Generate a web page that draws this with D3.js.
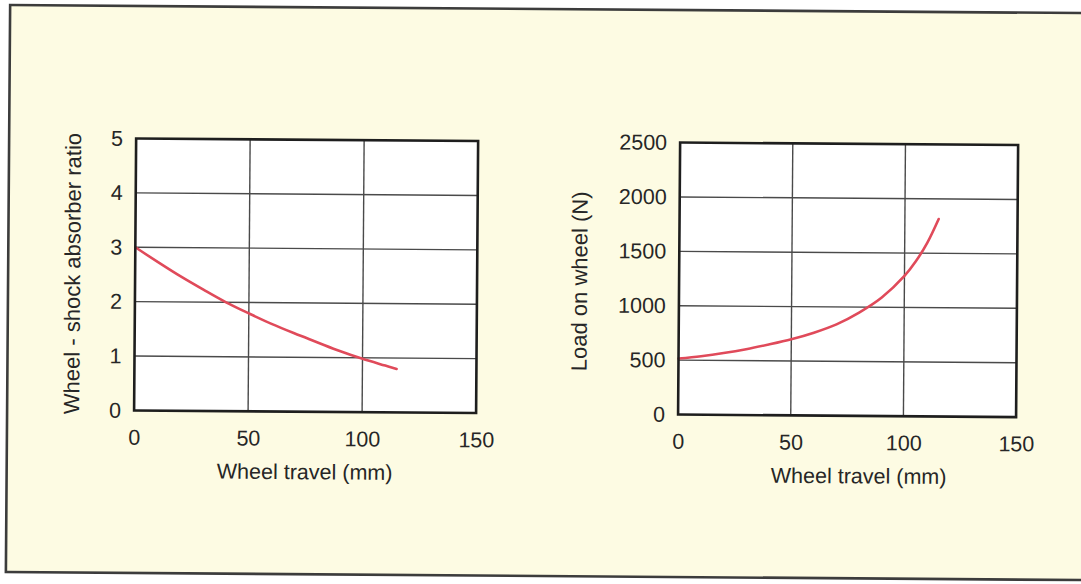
<!DOCTYPE html>
<html><head><meta charset="utf-8">
<script src="https://cdn.jsdelivr.net/npm/d3@7"></script>
<style>
html,body{margin:0;padding:0;background:#ffffff;}
svg{display:block;}
text{font-family:"Liberation Sans",Arial,Helvetica,sans-serif;}
</style></head>
<body>
<svg id="chart" width="1081" height="584"></svg>
<script>
// ---- data ----
const xTickValues = [0, 50, 100, 150];
const ratioTickValues = [0, 1, 2, 3, 4, 5];
const loadTickValues = [0, 500, 1000, 1500, 2000, 2500];

const ratioTravel = [0, 10, 20, 30, 40, 50, 60, 70, 80, 90, 100, 110, 115];
const ratioValues = [3.0, 2.73, 2.47, 2.23, 2.0, 1.8, 1.61, 1.44, 1.28, 1.12, 0.98, 0.86, 0.8];

const loadTravel = [0, 10, 20, 30, 40, 50, 60, 70, 80, 90, 100, 105, 110, 115];
const loadValues = [515, 538, 568, 605, 650, 700, 762, 840, 950, 1090, 1290, 1425, 1595, 1815];

const xTitle = "Wheel travel (mm)";
const ratioTitle = "Wheel - shock absorber ratio";
const loadTitle = "Load on wheel (N)";

// ---- drawing ----
const svg = d3.select("#chart");
const root = svg.append("g").attr("transform", "rotate(0.43,540,292)");

const cream = "#fdfbe3";
const ink = "#262626";

root.append("rect")
  .attr("x", 8).attr("y", 9).attr("width", 1110).attr("height", 567)
  .attr("fill", cream).attr("stroke", "#3c3c3c").attr("stroke-width", 2.6);

function panel(opt) {
  const x = d3.scaleLinear().domain([0, 150]).range([opt.left, opt.right]);
  const y = d3.scaleLinear().domain(opt.yDomain).range([opt.bottom, opt.top]);
  const g = root.append("g");

  g.append("rect")
    .attr("x", opt.left).attr("y", opt.top)
    .attr("width", opt.right - opt.left).attr("height", opt.bottom - opt.top)
    .attr("fill", "#ffffff");

  // grid
  g.append("g").selectAll("line.v")
    .data(xTickValues.slice(1, -1)).join("line")
    .attr("x1", d => x(d)).attr("x2", d => x(d))
    .attr("y1", opt.top).attr("y2", opt.bottom)
    .attr("stroke", "#4a4a4a").attr("stroke-width", 1.4);
  g.append("g").selectAll("line.h")
    .data(opt.yTicks.slice(1, -1)).join("line")
    .attr("y1", d => y(d)).attr("y2", d => y(d))
    .attr("x1", opt.left).attr("x2", opt.right)
    .attr("stroke", "#4a4a4a").attr("stroke-width", 1.4);

  // curve
  const line = d3.line().x(d => x(d[0])).y(d => y(d[1])).curve(d3.curveCatmullRom.alpha(0.5));
  g.append("path")
    .datum(opt.xs.map((v, i) => [v, opt.ys[i]]))
    .attr("d", line)
    .attr("fill", "none").attr("stroke", "#e04a5a").attr("stroke-width", 2.6)
    .attr("stroke-linecap", "round");

  // border
  g.append("rect")
    .attr("x", opt.left).attr("y", opt.top)
    .attr("width", opt.right - opt.left).attr("height", opt.bottom - opt.top)
    .attr("fill", "none").attr("stroke", "#1e1e1e").attr("stroke-width", 2.6);

  // axes
  const ax = g.append("g").attr("transform", `translate(0,${opt.bottom})`)
    .call(d3.axisBottom(x).tickValues(xTickValues).tickSize(0).tickPadding(19).tickFormat(d3.format("d")));
  const ay = g.append("g").attr("transform", `translate(${opt.left},0)`)
    .call(d3.axisLeft(y).tickValues(opt.yTicks).tickSize(0).tickPadding(13).tickFormat(d3.format("d")));
  [ax, ay].forEach(a => {
    a.select(".domain").remove();
    a.selectAll("text").attr("font-size", 21.5).attr("fill", ink)
      .attr("font-family", "Liberation Sans, Arial, sans-serif");
  });

  g.append("text")
    .attr("x", (opt.left + opt.right) / 2 + opt.xTitleDx).attr("y", 481)
    .attr("text-anchor", "middle").attr("font-size", 21.5).attr("fill", ink)
    .text(xTitle);

  g.append("text")
    .attr("transform", `translate(${opt.yTitleX},${opt.yTitleY}) rotate(-90)`)
    .attr("text-anchor", "middle").attr("font-size", 22).attr("fill", ink)
    .text(opt.yTitle);
}

panel({
  left: 135, right: 477, top: 141.5, bottom: 413.5,
  yDomain: [0, 5], yTicks: ratioTickValues,
  xs: ratioTravel, ys: ratioValues,
  yTitle: ratioTitle, yTitleX: 80, yTitleY: 277, xTitleDx: 0
});

panel({
  left: 679, right: 1017, top: 141.5, bottom: 413.5,
  yDomain: [0, 2500], yTicks: loadTickValues,
  xs: loadTravel, ys: loadValues,
  yTitle: loadTitle, yTitleX: 587, yTitleY: 281, xTitleDx: 12
});
</script>
</body></html>
